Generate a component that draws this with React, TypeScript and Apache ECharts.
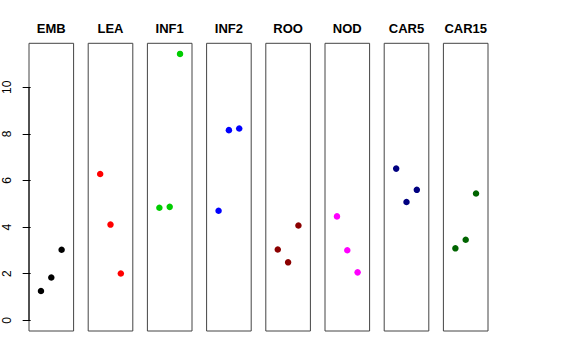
import React, { useEffect, useRef } from "react";
import * as echarts from "echarts";

const panels = ["EMB", "LEA", "INF1", "INF2", "ROO", "NOD", "CAR5", "CAR15"];
const colors = ["#000000", "#FF0000", "#00CD00", "#0000FF", "#8B0000", "#FF00FF", "#000080", "#006400"];
const xPositions = [1, 2, 3];
const values = [
  [1.26, 1.84, 3.03],
  [6.28, 4.11, 2.01],
  [4.83, 4.87, 11.43],
  [4.7, 8.16, 8.23],
  [3.04, 2.49, 4.07],
  [4.46, 3.01, 2.06],
  [6.51, 5.08, 5.6],
  [3.09, 3.46, 5.44],
];
const yTicks = [0, 2, 4, 6, 8, 10];

export default function App() {
  const ref = useRef<HTMLDivElement>(null);
  useEffect(() => {
    if (!ref.current) return;
    const chart = echarts.init(ref.current, null, { renderer: "svg" });
    const yMin = -0.456;
    const yMax = 11.886;
    const xMin = -0.16;
    const xMax = 4.16;
    const left0 = 29;
    const step = 59.2;
    const w = 44.6;
    const top = 43.3;
    const h = 287.7;
    const grids = panels.map((_, i) => ({
      left: left0 + i * step,
      top,
      width: w,
      height: h,
      show: true,
      borderColor: "#444",
      borderWidth: 1,
      backgroundColor: "transparent",
    }));
    const xAxes = panels.map((_, i) => ({
      type: "value",
      gridIndex: i,
      min: xMin,
      max: xMax,
      show: false,
    }));
    const yAxes = panels.map((_, i) => ({
      type: "value",
      gridIndex: i,
      min: yMin,
      max: yMax,
      show: i === 0,
      splitLine: { show: false },
      axisLine: { show: false },
      axisTick: {
        show: true,
        customValues: yTicks,
        length: 8,
        lineStyle: { color: "#000", width: 1 },
      },
      axisLabel: {
        show: true,
        customValues: yTicks,
        rotate: 90,
        margin: 16,
        color: "#000",
        fontSize: 12,
        fontFamily: "Liberation Sans, Arial, sans-serif",
      },
    }));
    const series: any[] = panels.map((_, i) => ({
      type: "scatter",
      xAxisIndex: i,
      yAxisIndex: i,
      symbol: "circle",
      symbolSize: 6.5,
      itemStyle: { color: colors[i], opacity: 1 },
      data: xPositions.map((x, j) => [x, values[i][j]]),
    }));
    series.push({
      type: "line",
      xAxisIndex: 0,
      yAxisIndex: 0,
      symbol: "none",
      silent: true,
      clip: false,
      lineStyle: { color: "#000", width: 1 },
      data: [
        [xMin, yTicks[0]],
        [xMin, yTicks[yTicks.length - 1]],
      ],
    });
    const titles = panels.map((p, i) => ({
      text: p,
      left: left0 + i * step + w / 2,
      top: 22,
      textAlign: "center",
      padding: 0,
      textStyle: {
        fontSize: 13,
        fontWeight: "bold",
        color: "#000",
        fontFamily: "Liberation Sans, Arial, sans-serif",
      },
    }));
    chart.setOption({
      animation: false,
      backgroundColor: "#fff",
      title: titles,
      grid: grids,
      xAxis: xAxes,
      yAxis: yAxes,
      series,
    });
    return () => chart.dispose();
  }, []);
  return (
    <div
      ref={ref}
      style={{ position: "fixed", left: 0, top: 0, width: 576, height: 360 }}
    />
  );
}
